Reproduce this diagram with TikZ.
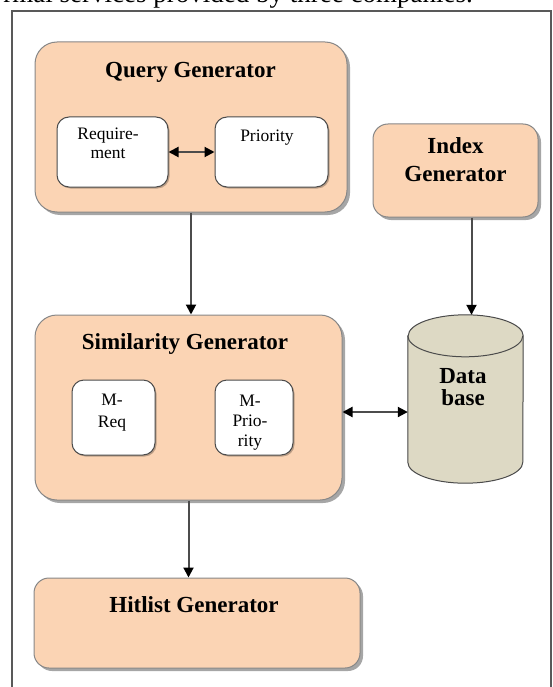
\documentclass[tikz,border=0pt]{standalone}
\usepackage{fontspec}
\setmainfont{Liberation Serif}
\usetikzlibrary{arrows.meta,shadows}
\definecolor{peach}{RGB}{251,212,180}
\definecolor{dbfill}{RGB}{221,217,196}
\definecolor{boxline}{RGB}{135,135,135}
\definecolor{innerline}{RGB}{75,75,75}
\begin{document}
\begin{tikzpicture}[x=1pt,y=-1pt,
  genbox/.style={draw=boxline,fill=peach,line width=1pt,inner sep=0pt,
    drop shadow={shadow xshift=3pt,shadow yshift=-3pt,fill=black,opacity=0.35}},
  subbox/.style={draw=innerline,fill=white,line width=1pt,inner sep=0pt,rounded corners=12pt,
    drop shadow={shadow xshift=1.5pt,shadow yshift=-1.5pt,fill=black,opacity=0.25}},
  title/.style={font=\fontsize{23}{28}\selectfont\bfseries,anchor=base,align=center,inner sep=0pt},
  small/.style={font=\fontsize{17.5}{22}\selectfont,anchor=base,align=center,inner sep=0pt},
  link/.style={draw=black!70,line width=2pt,-{Triangle[width=10pt,length=10pt,color=black]}},
  duplink/.style={draw=black!70,line width=2pt,{Triangle[width=10pt,length=10pt,color=black]}-{Triangle[width=10pt,length=10pt,color=black]}}]
 \useasboundingbox (0,0) rectangle (552,687);
 \clip (0,0) rectangle (552,687);
 % page text and frame
 \node (caption) [font=\fontsize{27}{30}\selectfont,anchor=base east,inner sep=0pt] at (473,2.5) {rmal services provided by three companies.};
 \draw[draw=black!65,line width=1.5pt] (12,700) -- (12,11) -- (551,11) -- (551,700);
 % generators
 \node (query) [genbox,rounded corners=22pt,minimum width=312pt,minimum height=170pt] at (191,127) {};
 \node (index) [genbox,rounded corners=15pt,minimum width=165pt,minimum height=93pt] at (455.5,170.5) {};
 \node (simil) [genbox,rounded corners=22pt,minimum width=307pt,minimum height=185pt] at (188.5,407.5) {};
 \node (hit) [genbox,rounded corners=15pt,minimum width=326pt,minimum height=90pt] at (197,623) {};
 % data base cylinder
 \node (db) [minimum width=115pt,minimum height=168pt,inner sep=0pt] at (465.5,399) {};
 \begin{scope}[shift={(3pt,-3pt)}]
  \fill[black,opacity=0.35] ([yshift=-21pt]db.north west) -- ([yshift=21pt]db.south west)
   arc[start angle=180,end angle=360,x radius=57.5pt,y radius=21pt] -- ([yshift=-21pt]db.north east)
   arc[start angle=0,end angle=180,x radius=57.5pt,y radius=21pt] -- cycle;
 \end{scope}
 \draw[draw=innerline,fill=dbfill,line width=1pt] ([yshift=-21pt]db.north west) -- ([yshift=21pt]db.south west)
   arc[start angle=180,end angle=360,x radius=57.5pt,y radius=21pt] -- ([yshift=-21pt]db.north east)
   arc[start angle=0,end angle=180,x radius=57.5pt,y radius=21pt] -- cycle;
 \draw[draw=innerline,line width=1pt] ([yshift=-21pt]db.north west)
   arc[start angle=180,end angle=360,x radius=57.5pt,y radius=21pt];
 % inner boxes
 \node (req) [subbox,minimum width=111pt,minimum height=70pt] at (112.5,152) {};
 \node (prio) [subbox,minimum width=113pt,minimum height=70pt] at (271.5,152) {};
 \node (mreq) [subbox,minimum width=83pt,minimum height=75pt] at (113.5,417.5) {};
 \node (mprio) [subbox,minimum width=78pt,minimum height=75pt] at (254,417.5) {};
 % texts
 \node (querytitle) [title] at (190.5,78) {Query Generator};
 \node (indextitle) [title] at (455.5,181) {Index\\Generator};
 \node (similtitle) [title] at (185,349) {Similarity Generator};
 \node (hittitle) [title] at (194,612) {Hitlist Generator};
 \node (dbtitle) [title,font=\fontsize{23}{22}\selectfont\bfseries] at (463,405) {Data\\base};
 \node (reqtext) [small,font=\fontsize{17.5}{18}\selectfont] at (108,158) {Require-\\ment};
 \node (priotext) [small] at (267,142) {Priority};
 \node (mreqtext) [small] at (112,427) {M-\\Req};
 \node (mpriotext) [small,font=\fontsize{17.5}{20}\selectfont] at (250,446) {M-\\Prio-\\rity};
 % connectors
 \draw[duplink] (req.east) -- (prio.west);
 \draw[link] (query.south) -- (query.south |- simil.north);
 \draw[link] ([xshift=16pt]index.south) -- ([xshift=16pt]index.south |- db.north);
 \draw[duplink] ([yshift=-4.5pt]simil.east) -- ([yshift=-4.5pt]simil.east -| db.west);
 \draw[link] (simil.south) -- (simil.south |- hit.north);
\end{tikzpicture}
\end{document}
